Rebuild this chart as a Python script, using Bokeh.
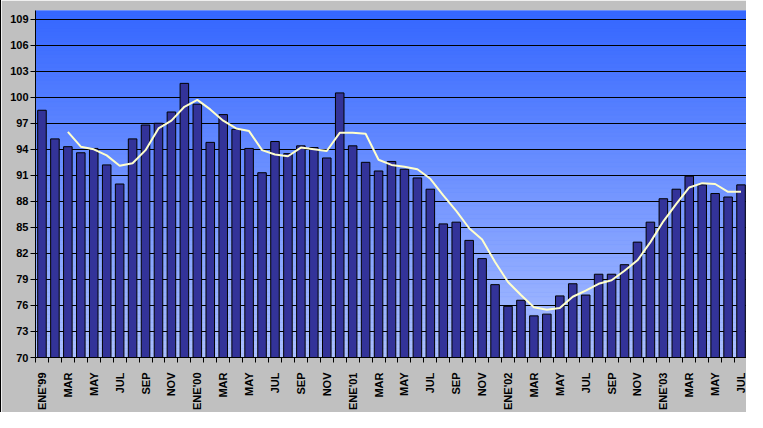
import numpy as np
from bokeh.plotting import figure
from bokeh.models import FixedTicker, ColumnDataSource
from bokeh.embed import file_html
from bokeh.resources import INLINE

# ---- data ----
months = ["ENE'99", "FEB", "MAR", "ABR", "MAY", "JUN", "JUL", "AGO", "SEP", "OCT", "NOV", "DIC",
          "ENE'00", "FEB", "MAR", "ABR", "MAY", "JUN", "JUL", "AGO", "SEP", "OCT", "NOV", "DIC",
          "ENE'01", "FEB", "MAR", "ABR", "MAY", "JUN", "JUL", "AGO", "SEP", "OCT", "NOV", "DIC",
          "ENE'02", "FEB", "MAR", "ABR", "MAY", "JUN", "JUL", "AGO", "SEP", "OCT", "NOV", "DIC",
          "ENE'03", "FEB", "MAR", "ABR", "MAY", "JUN", "JUL"]

index_values = [98.5, 95.2, 94.3, 93.6, 94.1, 92.2, 90.0, 95.2, 96.8, 97.0, 98.3, 101.6,
                99.2, 94.8, 98.0, 96.3, 94.1, 91.3, 94.9, 93.5, 94.4, 94.2, 93.0, 100.5,
                94.4, 92.5, 91.5, 92.6, 91.7, 90.7, 89.4, 85.4, 85.6, 83.5, 81.4, 78.4,
                75.9, 76.6, 74.8, 75.0, 77.1, 78.5, 77.2, 79.6, 79.6, 80.7, 83.3, 85.6,
                88.3, 89.4, 90.9, 89.9, 88.9, 88.5, 89.9]

# moving average, starting at the 3rd month (MAR'99)
trend_start = 2
trend_values = [96.0, 94.3, 94.0, 93.3, 92.1, 92.4, 93.9, 96.4, 97.3, 98.9,
                99.7, 98.6, 97.3, 96.4, 96.1, 93.9, 93.4, 93.2, 94.2, 94.0,
                93.8, 95.9, 95.9, 95.8, 92.8, 92.2, 92.0, 91.7, 90.6, 88.7,
                86.9, 84.9, 83.6, 81.0, 78.7, 77.2, 75.8, 75.5, 75.7, 77.0,
                77.7, 78.5, 78.9, 80.0, 81.2, 83.3, 85.7, 87.7, 89.6, 90.1,
                90.0, 89.1, 89.1]

y_ticks = list(range(70, 110, 3))
y_min, y_max = 70, 110

# ---- figure ----
n = len(index_values)
x = np.arange(n)
GRAY = "#C0C0C0"
FONT = "Liberation Sans"

p = figure(width=746, height=412, output_backend="svg", toolbar_location=None,
           x_range=(-0.5, n - 0.5), y_range=(y_min, y_max),
           min_border_left=34, min_border_right=0, min_border_top=10, min_border_bottom=0)
p.background_fill_color = "#5580ff"
p.border_fill_color = GRAY
p.outline_line_color = None
p.styles = {"border-left": "1px solid black"}

# gradient background (styling bands)
nb = 80
edges = np.linspace(y_min, y_max, nb + 1)
c_top = np.array([52, 102, 255])
c_bot = np.array([172, 192, 255])
cols = []
for i in range(nb):
    t = (edges[i] + edges[i + 1]) / 2
    f = (t - y_min) / (y_max - y_min)
    c = c_bot + (c_top - c_bot) * f
    cols.append("#%02x%02x%02x" % tuple(int(round(v)) for v in c))
p.quad(left=-0.5, right=n - 0.5, bottom=edges[:-1], top=edges[1:], fill_color=cols,
       line_color=cols, line_width=0.5, level="image")

# bars
src = ColumnDataSource(dict(x=x, top=index_values))
p.vbar(x="x", top="top", bottom=y_min, width=0.66, source=src,
       fill_color="#333399", line_color="#000000", line_width=1)

# trend line
tx = x[trend_start:trend_start + len(trend_values)]
p.line(tx, trend_values, line_color="#FFFFCC", line_width=2)

# grid
p.xgrid.visible = False
p.ygrid.ticker = FixedTicker(ticks=y_ticks)
p.ygrid.grid_line_color = "#000000"
p.ygrid.grid_line_width = 1

# y axis
p.yaxis.ticker = FixedTicker(ticks=y_ticks)
p.yaxis.axis_line_color = "#000000"
p.yaxis.major_tick_line_color = "#000000"
p.yaxis.major_tick_out = 5
p.yaxis.major_tick_in = 0
p.yaxis.minor_tick_line_color = None
p.yaxis.major_label_standoff = 2
p.yaxis.major_label_text_font = FONT
p.yaxis.major_label_text_font_style = "bold"
p.yaxis.major_label_text_font_size = "11px"
p.yaxis.major_label_text_color = "#000000"

# x axis
label_pos = list(range(0, n, 2))
p.xaxis.ticker = FixedTicker(ticks=label_pos, minor_ticks=[i - 0.5 for i in range(n + 1)])
p.xaxis.major_label_overrides = {i: months[i] for i in label_pos}
p.xaxis.major_label_orientation = np.pi / 2
p.xaxis.axis_line_color = "#000000"
p.xaxis.major_tick_line_color = None
p.xaxis.major_tick_out = 5
p.xaxis.major_tick_in = 0
p.xaxis.minor_tick_line_color = "#000000"
p.xaxis.minor_tick_out = 5
p.xaxis.minor_tick_in = 0
p.xaxis.major_label_standoff = 10
p.xaxis.major_label_text_font = FONT
p.xaxis.major_label_text_font_style = "bold"
p.xaxis.major_label_text_font_size = "11px"
p.xaxis.major_label_text_color = "#000000"

open("out.html", "w").write(file_html(p, INLINE))
